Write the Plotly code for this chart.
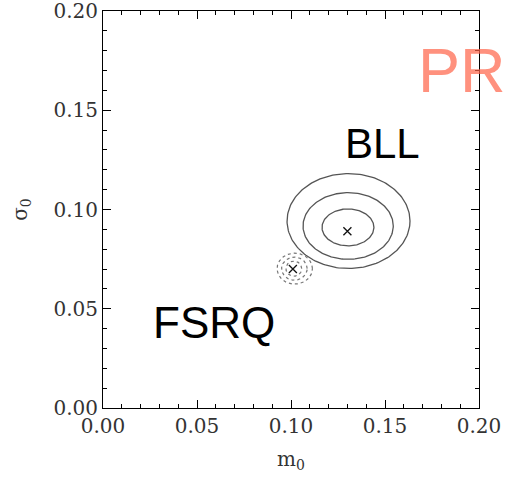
import numpy as np
import plotly.graph_objects as go

# Best-fit points (m0, sigma0)
bll_best = (0.130, 0.089)
fsrq_best = (0.101, 0.070)

# Confidence contour parameters: centre x, centre y, semi-axis x, semi-axis y
bll_cx = [0.1306, 0.1304, 0.1303]
bll_cy = [0.0942, 0.0917, 0.0910]
bll_ax = [0.0327, 0.0240, 0.0138]
bll_ay = [0.0239, 0.0168, 0.0093]

fsrq_cx = [0.1020, 0.1018, 0.1015]
fsrq_cy = [0.0702, 0.0702, 0.0702]
fsrq_ax = [0.0094, 0.0068, 0.0042]
fsrq_ay = [0.0078, 0.0058, 0.0038]

x_ticks = [0.00, 0.05, 0.10, 0.15, 0.20]
y_ticks = [0.00, 0.05, 0.10, 0.15, 0.20]

t = np.linspace(0, 2 * np.pi, 200)
fig = go.Figure()
for cx, cy, ax, ay in zip(bll_cx, bll_cy, bll_ax, bll_ay):
    fig.add_trace(go.Scatter(x=cx + ax * np.cos(t), y=cy + ay * np.sin(t), mode="lines",
                             line=dict(color="#555555", width=1.3), hoverinfo="skip"))
for cx, cy, ax, ay in zip(fsrq_cx, fsrq_cy, fsrq_ax, fsrq_ay):
    fig.add_trace(go.Scatter(x=cx + ax * np.cos(t), y=cy + ay * np.sin(t), mode="lines",
                             line=dict(color="#777777", width=1.2, dash="dot"), hoverinfo="skip"))
fig.add_trace(go.Scatter(x=[bll_best[0], fsrq_best[0]], y=[bll_best[1], fsrq_best[1]], mode="markers",
                         marker=dict(symbol="x-thin", size=8, line=dict(color="#111111", width=1.3))))

fig.add_annotation(x=0.1485, y=0.1335, text="BLL", showarrow=False, xref="x", yref="y",
                   xanchor="center", yanchor="middle",
                   font=dict(family="Liberation Sans, Arial", size=42, color="black"))
fig.add_annotation(x=0.059, y=0.043, text="FSRQ", showarrow=False, xref="x", yref="y",
                   xanchor="center", yanchor="middle",
                   font=dict(family="Liberation Sans, Arial", size=44, color="black"))
fig.add_annotation(x=(462 - 103) / 376, y=(408 - 69) / 398, text="PR", showarrow=False,
                   xref="paper", yref="paper", xanchor="center", yanchor="middle",
                   font=dict(family="Liberation Sans, Arial", size=63, color="rgba(255,99,71,0.7)"))

eps = 1e-9
axis_common = dict(
    range=[-eps, 0.2 + eps], tickvals=x_ticks, tickformat=".2f", ticks="inside", ticklen=8, tickwidth=1,
    tickcolor="black", showline=True, linecolor="black", linewidth=1, mirror="ticks",
    showgrid=False, zeroline=False, ticklabeloverflow="allow", automargin=False,
    minor=dict(ticks="inside", ticklen=4, dtick=0.01, tickcolor="black", showgrid=False),
    tickfont=dict(family="DejaVu Serif", size=20, color="#333333"),
)
fig.update_xaxes(**axis_common, title=dict(text="m<sub>0</sub>", font=dict(family="DejaVu Serif", size=20, color="#333333"), standoff=14))
fig.update_yaxes(**axis_common, title=dict(text="σ<sub>0</sub>", font=dict(family="DejaVu Serif", size=20, color="#333333"), standoff=20))
fig.update_yaxes(tickvals=y_ticks)

fig.update_layout(width=508, height=479, margin=dict(l=103, r=29, t=11, b=71),
                  plot_bgcolor="white", paper_bgcolor="white", showlegend=False)
fig.write_html("out.html")
